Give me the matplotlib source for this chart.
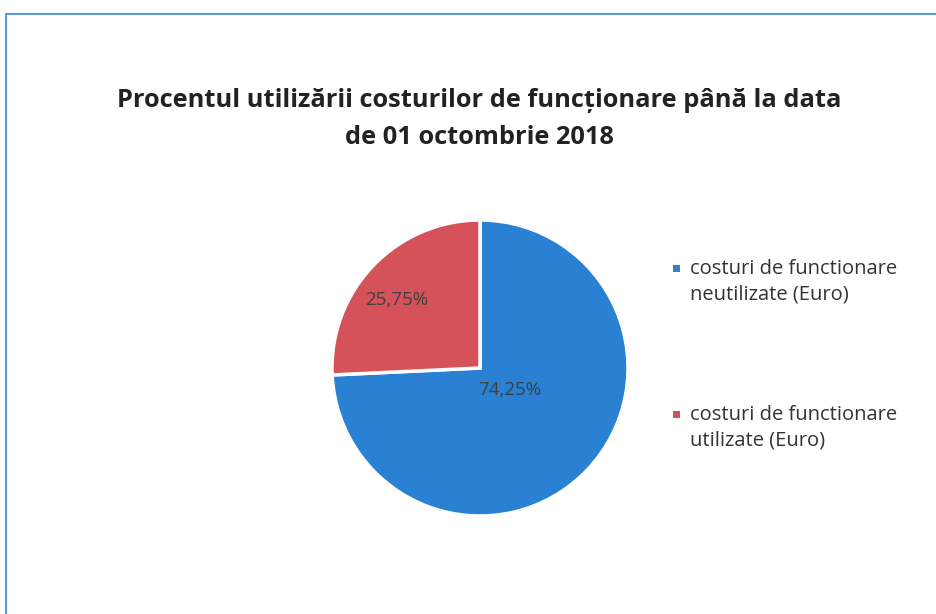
import numpy as np
import matplotlib.pyplot as plt
from matplotlib.patches import Rectangle

# data
labels = ['costuri de functionare\nneutilizate (Euro)',
          'costuri de functionare\nutilizate (Euro)']
values = [74.25, 25.75]
pct_text = ['74,25%', '25,75%']
colors = ['#2a80d2', '#d5525b']

title = 'Procentul utilizării costurilor de funcționare până la data\nde 01 octombrie 2018'

plt.rcParams['font.family'] = ['Open Sans', 'DejaVu Sans']

W, H = 936, 614
fig = plt.figure(figsize=(W / 100, H / 100), dpi=100)

# chart border (scanned page edge)
fig.patches.append(Rectangle((6 / W, -0.1), 1.2, (H - 14) / H + 0.1,
                             transform=fig.transFigure, fill=False,
                             edgecolor='#5b9bd5', lw=1.5))

fig.text(479 / W, 1 - 119 / H, title, ha='center', va='center',
         fontsize=18.3, fontweight='bold', color='#222222', linespacing=1.62)

# pie axes: centre (480, 368), radius 148 px
r = 148
ax = fig.add_axes([(480 - r) / W, 1 - (368 + r) / H, 2 * r / W, 2 * r / H])
wedges, _ = ax.pie(values, colors=colors, startangle=90, counterclock=False,
                   wedgeprops=dict(edgecolor='white', linewidth=2.5),
                   radius=1.0)
ax.set_xlim(-1, 1)
ax.set_ylim(-1, 1)
ax.set_aspect('equal')
ax.axis('off')

# percentage labels (Excel puts them oddly, place like reference)
pos = [(0.2, -0.15), (-0.56, 0.46)]
for w, t, p in zip(wedges, pct_text, pos):
    ax.text(p[0], p[1], t, ha='center', va='center', fontsize=13.5,
            color='#3f3f3f')

# legend
ys = [282, 428]
for w, lab, y in zip(wedges, labels, ys):
    fig.patches.append(Rectangle((673 / W, 1 - (y - 14 + 4) / H), 7 / W, 7 / H,
                                 transform=fig.transFigure,
                                 facecolor=w.get_facecolor(), edgecolor='none'))
    fig.text(690 / W, 1 - y / H, lab, ha='left', va='center', fontsize=14.5,
             color='#333333', linespacing=1.38)

fig.savefig('out.png', dpi=100)
